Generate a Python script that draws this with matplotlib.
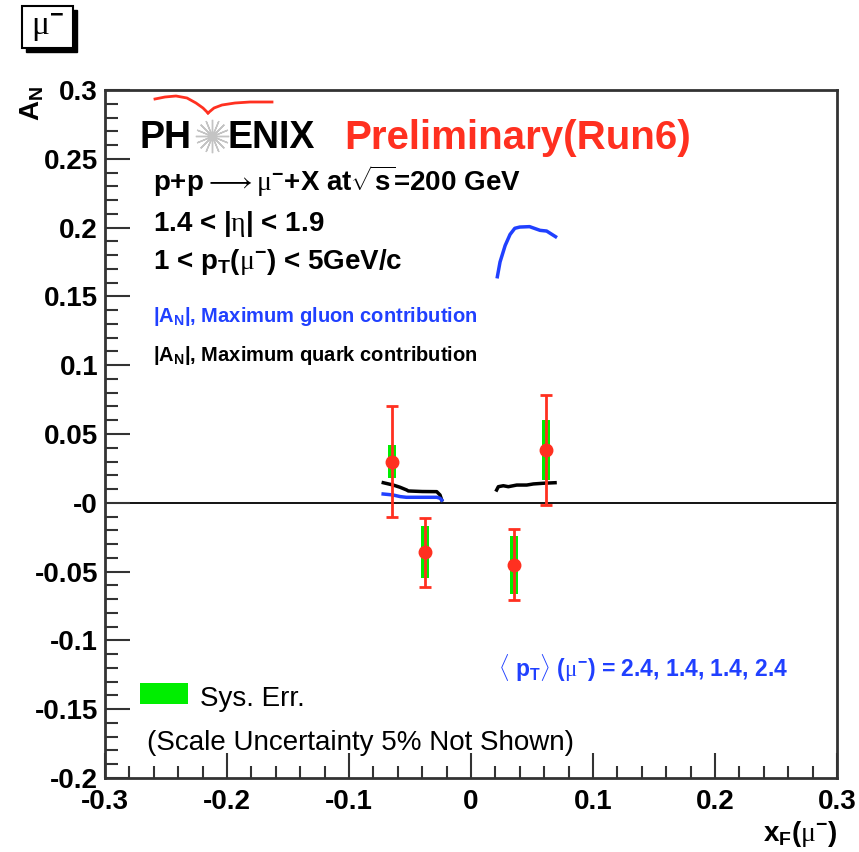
import numpy as np
import matplotlib
matplotlib.use("Agg")
import matplotlib.pyplot as plt
from matplotlib.patches import Rectangle
from matplotlib.lines import Line2D

plt.rcParams['font.family'] = ['Liberation Sans', 'DejaVu Sans']
plt.rcParams['mathtext.fontset'] = 'custom'
plt.rcParams['mathtext.rm'] = 'Liberation Sans:bold'
plt.rcParams['mathtext.it'] = 'Liberation Sans:bold'
plt.rcParams['mathtext.bf'] = 'Liberation Sans:bold'
plt.rcParams['mathtext.sf'] = 'Liberation Serif'   # used for the thin greek letters

# measured points
xf = [-0.0645, -0.038, 0.0352, 0.0612]
an = [0.030, -0.036, -0.045, 0.0385]
stat_err = [0.040, 0.025, 0.026, 0.040]
sys_err = [0.012, 0.019, 0.021, 0.022]

# theory curves (max gluon / max quark contribution)
gluon_left_x = [-0.072, -0.064, -0.058, -0.053, -0.045, -0.035, -0.028, -0.0254, -0.024]
gluon_left_y = [0.0064, 0.0057, 0.0045, 0.0040, 0.0040, 0.0040, 0.0040, 0.0033, 0.0020]
gluon_right_x = [0.0216, 0.0238, 0.028, 0.032, 0.0359, 0.040, 0.048, 0.0566, 0.062, 0.0693]
gluon_right_y = [0.1643, 0.175, 0.187, 0.195, 0.1995, 0.2004, 0.2007, 0.198, 0.1975, 0.1934]
quark_left_x = [-0.0719, -0.0637, -0.0582, -0.0527, -0.0514, -0.040, -0.0281, -0.0254, -0.024]
quark_left_y = [0.0146, 0.0129, 0.0113, 0.0093, 0.0086, 0.0082, 0.0081, 0.0057, 0.0020]
quark_right_x = [0.021, 0.0224, 0.0265, 0.0306, 0.0375, 0.0457, 0.0511, 0.0593, 0.0689]
quark_right_y = [0.0093, 0.0117, 0.0124, 0.0117, 0.0129, 0.0129, 0.0137, 0.0142, 0.0146]

xticks = [-0.3, -0.2, -0.1, 0.0, 0.1, 0.2, 0.3]
xticklabels = ["-0.3", "-0.2", "-0.1", "0", "0.1", "0.2", "0.3"]
yticks = [0.3, 0.25, 0.2, 0.15, 0.1, 0.05, 0.0, -0.05, -0.1, -0.15, -0.2]
yticklabels = ["0.3", "0.25", "0.2", "0.15", "0.1", "0.05", "-0", "-0.05", "-0.1", "-0.15", "-0.2"]

W, H = 859, 852
RED = '#ff3020'
BLUE = '#2040ff'
GREEN = '#00ee00'
MU = r'$\mathsf{\mu}^{-}$'


def px(x, y):
    # figure pixel -> figure fraction
    return x / W, 1 - y / H


fig = plt.figure(figsize=(W / 100, H / 100), dpi=100)
ax = fig.add_axes([105 / W, 1 - 778 / H, 732 / W, 688 / H])

ax.set_xlim(-0.3, 0.3)
ax.set_ylim(-0.2, 0.3)
ax.axhline(0, color='black', lw=1.3, zorder=1)

ax.plot(quark_left_x, quark_left_y, color='black', lw=2.5, zorder=2)
ax.plot(quark_right_x, quark_right_y, color='black', lw=2.5, zorder=2)
ax.plot(gluon_left_x, gluon_left_y, color=BLUE, lw=2.5, zorder=2)
ax.plot(gluon_right_x, gluon_right_y, color=BLUE, lw=2.5, zorder=2)

sys_lo = np.array(an) - np.array(sys_err)
ax.bar(xf, 2 * np.array(sys_err), bottom=sys_lo, width=0.0065, color=GREEN, zorder=3)
ax.errorbar(xf, an, yerr=stat_err, fmt='o', color=RED, ms=9, lw=2,
            capsize=4, capthick=2, zorder=4)

ax.set_xticks(xticks, xticklabels)
ax.set_yticks(yticks, yticklabels)
ax.set_xticks(np.arange(-0.3, 0.3001, 0.02), minor=True)
ax.set_yticks(np.arange(-0.2, 0.3001, 0.01), minor=True)
ax.tick_params(which='both', direction='in', color='#333333', width=1.5)
ax.tick_params(which='major', length=18, labelsize=20)
ax.tick_params(which='minor', length=9)
ax.tick_params(axis='y', pad=5)
ax.tick_params(axis='x', pad=8)
for lab in ax.get_xticklabels() + ax.get_yticklabels():
    lab.set_fontweight('bold')
for sp in ax.spines.values():
    sp.set_linewidth(2)
    sp.set_color('#333333')

# axis titles
fig.text(*px(32, 86), r'$A_N$', rotation=90, ha='center', va='top', fontsize=20)
fig.text(*px(837, 841), r'$x_F($' + MU + r'$)$', ha='right', va='baseline', fontsize=20)

# mu- box with shadow
fig.add_artist(Rectangle(px(26, 52), 51 / W, 42 / H, transform=fig.transFigure,
                         facecolor='black', edgecolor='black'))
fig.add_artist(Rectangle(px(22, 48), 51 / W, 42 / H, transform=fig.transFigure,
                         facecolor='white', edgecolor='black', lw=1.5))
fig.text(*px(47, 28), MU, ha='center', va='center', fontsize=24)

# PHENIX logo
fig.text(*px(140, 148), 'PH', ha='left', va='baseline', fontsize=27, fontweight='bold')
fig.text(*px(228, 148), 'ENIX', ha='left', va='baseline', fontsize=27, fontweight='bold')
fig.add_artist(Line2D([212 / W], [1 - 136 / H], marker=(16, 2, 0), ms=24, color='#c4c4c4',
                      mew=1.0, transform=fig.transFigure))
swoosh_l = [(155, 99), (165, 97), (176, 96), (187, 98), (196, 103), (203, 108), (208, 113)]
swoosh_r = [(208, 113), (214, 108), (222, 105), (235, 103), (250, 102), (272, 102)]
for seg in (swoosh_l, swoosh_r):
    pts = [px(a, b) for a, b in seg]
    fig.add_artist(Line2D([p[0] for p in pts], [p[1] for p in pts], color=RED, lw=2,
                          transform=fig.transFigure))
fig.text(*px(344, 149), 'Preliminary(Run6)', ha='left', va='baseline', fontsize=29,
         fontweight='bold', color=RED)

fig.text(*px(153, 191), r'p+p$\mathsf{\longrightarrow}$' + MU + r'+X at$\sqrt{s}$=200 GeV',
         ha='left', va='baseline', fontsize=20, fontweight='bold')
fig.text(*px(153, 231), r'1.4 < |$\mathsf{\eta}$| < 1.9', ha='left', va='baseline',
         fontsize=20, fontweight='bold')
fig.text(*px(153, 269), r'1 < p$_T$(' + MU + ') < 5GeV/c', ha='left', va='baseline',
         fontsize=20, fontweight='bold')
fig.text(*px(153, 322), r'|A$_N$|, Maximum gluon contribution', ha='left', va='baseline',
         fontsize=14.5, fontweight='bold', color=BLUE)
fig.text(*px(153, 361), r'|A$_N$|, Maximum quark contribution', ha='left', va='baseline',
         fontsize=14.5, fontweight='bold', color='black')

fig.text(*px(498, 677), r'$\mathsf{\langle}$ p$_T\mathsf{\rangle}$ (' + MU + ') = 2.4, 1.4, 1.4, 2.4',
         ha='left', va='baseline', fontsize=16.5, fontweight='bold', color=BLUE)

fig.add_artist(Rectangle(px(140, 704), 48 / W, 21 / H, transform=fig.transFigure,
                         facecolor=GREEN, edgecolor='none'))
fig.text(*px(200, 706), 'Sys. Err.', ha='left', va='baseline', fontsize=20)
fig.text(*px(147, 750), '(Scale Uncertainty 5% Not Shown)', ha='left', va='baseline',
         fontsize=20)

fig.savefig('out.png', dpi=100)
